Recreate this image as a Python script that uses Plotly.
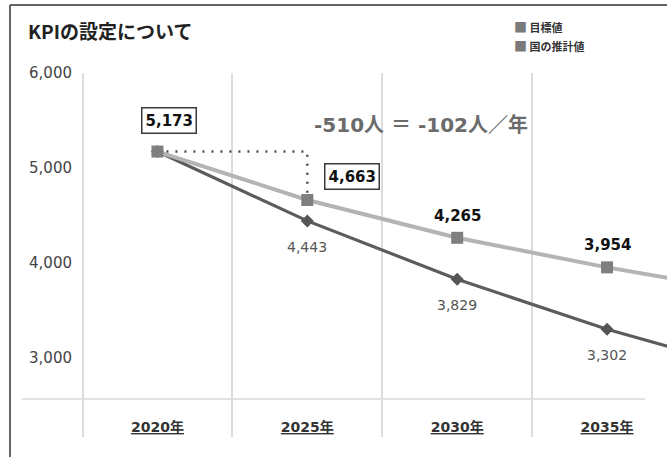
import plotly.graph_objects as go

# ---- data ----
categories = ["2020年", "2025年", "2030年", "2035年", "2040年"]
target_values = [5173, 4663, 4265, 3954, 3680]      # 目標値 (2040 lies beyond the cropped edge)
estimate_values = [5173, 4443, 3829, 3302, 2860]    # 国の推計値
shown = 4                                           # labelled points
y_ticks = [3000, 4000, 5000, 6000]

FONT = "Noto Sans CJK JP, Noto Sans, sans-serif"
NUM = "DejaVu Sans, Noto Sans CJK JP, sans-serif"
W, H = 667, 457
ML, MR, MT, MB = 78, 0, 73, 58
PW, PH = W - ML - MR, H - MT - MB


def px_x(p):  # pixel -> paper x
    return (p - ML) / PW


def px_y(p):  # pixel -> paper y
    return (H - MB - p) / PH


fig = go.Figure()

# dotted connector 2020 -> 2025 level drop
fig.add_trace(go.Scatter(
    x=[categories[0], categories[1], categories[1]],
    y=[target_values[0], target_values[0], target_values[1]],
    mode="lines", line=dict(color="#4d4d4d", width=2.5, dash="2px,7px"),
    hoverinfo="skip", showlegend=False))

fig.add_trace(go.Scatter(
    x=categories, y=estimate_values, name="国の推計値", mode="lines+markers",
    line=dict(color="#5c5c5c", width=3.2),
    marker=dict(symbol="diamond", size=10, color="#555555"),
    showlegend=False))

fig.add_trace(go.Scatter(
    x=categories, y=target_values, name="目標値", mode="lines+markers",
    line=dict(color="#b4b4b4", width=4),
    marker=dict(symbol="square", size=12, color="#7f7f7f"),
    showlegend=False))

annotations = []

# boxed labels for first two target points
box_shifts = [(12, 31), (45, 24)]
for i, (dx, dy) in enumerate(box_shifts):
    annotations.append(dict(
        x=categories[i], y=target_values[i], xref="x", yref="y",
        text=f"<b>{target_values[i]:,}</b>", showarrow=False,
        xshift=dx, yshift=dy, font=dict(family=NUM, size=15, color="#111111"),
        bgcolor="white", bordercolor="#3a3a3a", borderwidth=1.5, borderpad=3))

# plain bold labels above remaining target points
for i in range(2, shown):
    annotations.append(dict(
        x=categories[i], y=target_values[i], xref="x", yref="y",
        text=f"<b>{target_values[i]:,}</b>", showarrow=False, yshift=22,
        font=dict(family=NUM, size=15, color="#111111")))

# labels below estimate points
for i in range(1, shown):
    annotations.append(dict(
        x=categories[i], y=estimate_values[i], xref="x", yref="y",
        text=f"{estimate_values[i]:,}", showarrow=False, yshift=-26,
        font=dict(family=NUM, size=14, color="#555555")))

diff = target_values[1] - target_values[0]
per_year = diff // 5
annotations.append(dict(
    x=px_x(421), y=px_y(125), xref="paper", yref="paper",
    text=f"<b>{diff}人 ＝ {per_year}人／年</b>", showarrow=False,
    xanchor="center", yanchor="middle",
    font=dict(family=NUM, size=20, color="#6b6b6b")))

# title
annotations.append(dict(
    x=px_x(26), y=px_y(30), xref="paper", yref="paper",
    text="<b>KPIの設定について</b>", showarrow=False,
    xanchor="left", yanchor="middle",
    font=dict(family=FONT, size=19, color="#222222")))

# legend
for name, ypix in [("目標値", 27), ("国の推計値", 45)]:
    annotations.append(dict(
        x=px_x(512), y=px_y(ypix), xref="paper", yref="paper",
        text=f"<span style='color:#7a7a7a;font-size:13px'>■</span> <b>{name}</b>",
        showarrow=False, xanchor="left", yanchor="middle",
        font=dict(family=FONT, size=11, color="#333333")))

shapes = [
    # baseline
    dict(type="line", xref="paper", yref="paper", x0=px_x(22), x1=px_x(645),
         y0=0, y1=0, line=dict(color="#d9d9d9", width=1.5)),
    # outer frame (left & top)
    dict(type="line", xref="paper", yref="paper", x0=px_x(10), x1=px_x(10),
         y0=px_y(H + 2), y1=px_y(5), line=dict(color="#333333", width=1.5)),
    dict(type="line", xref="paper", yref="paper", x0=px_x(10), x1=px_x(W + 2),
         y0=px_y(5), y1=px_y(5), line=dict(color="#333333", width=1.5)),
]

fig.update_layout(
    width=W, height=H,
    margin=dict(l=ML, r=MR, t=MT, b=MB),
    paper_bgcolor="white", plot_bgcolor="white",
    font=dict(family=FONT),
    showlegend=False,
    annotations=annotations, shapes=shapes,
    xaxis=dict(
        type="category", categoryorder="array", categoryarray=categories,
        range=[-0.53, 3.40], tickson="boundaries",
        showgrid=True, gridcolor="#dcdcdc", gridwidth=1.5,
        ticks="outside", ticklen=37, tickcolor="#dcdcdc", tickwidth=1.5,
        ticklabelstandoff=18,
        tickfont=dict(family=NUM, size=14, color="#333333", weight="bold",
                      lineposition="under"),
        showline=False, zeroline=False, fixedrange=True),
    yaxis=dict(
        range=[2568, 6000], tickvals=y_ticks, tickformat=",",
        showgrid=False, zeroline=False, showline=False,
        ticklabelstandoff=5,
        tickfont=dict(family=NUM, size=15, color="#444444"), fixedrange=True),
)

fig.write_html("out.html", config={"displayModeBar": False},
               post_script="document.body.style.margin='0';")
